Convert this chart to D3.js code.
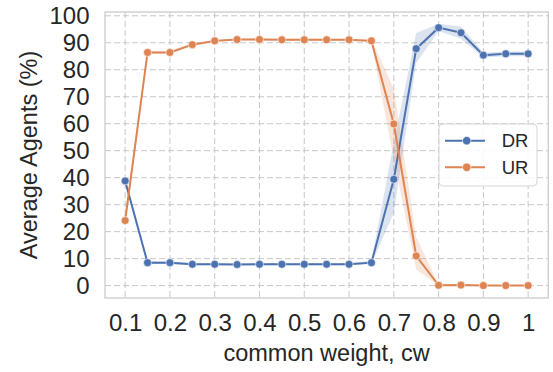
<!DOCTYPE html>
<html>
<head>
<meta charset="utf-8">
<script src="https://cdn.jsdelivr.net/npm/d3@7"></script>
<style>
  body { margin: 0; background: #fff; }
  text { font-family: "Liberation Sans", Arial, sans-serif; fill: #262626; }
</style>
</head>
<body>
<svg id="chart" width="553" height="372"></svg>
<script>
// common weight values (x)
var cw = [0.1, 0.15, 0.2, 0.25, 0.3, 0.35, 0.4, 0.45, 0.5, 0.55, 0.6, 0.65, 0.7, 0.75, 0.8, 0.85, 0.9, 0.95, 1.0];

// DR: mean and confidence band
var drMean = [38.8, 8.5, 8.5, 7.9, 7.9, 7.8, 7.9, 7.9, 7.9, 7.9, 7.9, 8.5, 39.4, 87.8, 95.6, 93.7, 85.4, 85.9, 85.9];
var drLow  = [37.8, 8.0, 8.0, 7.5, 7.5, 7.4, 7.5, 7.5, 7.5, 7.5, 7.5, 8.0, 27.0, 82.5, 94.4, 91.5, 84.5, 85.0, 85.0];
var drHigh = [39.8, 9.0, 9.0, 8.3, 8.3, 8.2, 8.3, 8.3, 8.3, 8.3, 8.3, 9.2, 53.0, 93.6, 97.0, 96.0, 86.4, 86.8, 86.8];

// UR: mean and confidence band
var urMean = [24.1, 86.4, 86.4, 89.3, 90.7, 91.2, 91.2, 91.1, 91.1, 91.1, 91.1, 90.7, 59.9, 11.0, 0.1, 0.2, 0.0, 0.0, 0.0];
var urLow  = [21.0, 85.8, 85.8, 88.8, 90.3, 90.8, 90.8, 90.7, 90.7, 90.7, 90.7, 90.0, 47.0, 6.0, 0.0, 0.0, 0.0, 0.0, 0.0];
var urHigh = [27.5, 87.0, 87.0, 89.8, 91.1, 91.6, 91.6, 91.5, 91.5, 91.5, 91.5, 91.4, 73.0, 18.0, 0.4, 0.5, 0.2, 0.2, 0.2];

var xTicks = [0.1, 0.2, 0.3, 0.4, 0.5, 0.6, 0.7, 0.8, 0.9, 1.0];
var yTicks = [0, 10, 20, 30, 40, 50, 60, 70, 80, 90, 100];

var seriesNames = ["DR", "UR"];
var colors = {DR: "#4c72b0", UR: "#dd8452"};

var svg = d3.select("#chart");
// plot box (window.top is taken, so prefix these)
var plotL = 105, plotR = 548.3, plotT = 12, plotB = 298;

var x = d3.scaleLinear().domain([0.055, 1.045]).range([plotL, plotR]);
var y = d3.scaleLinear().domain([-4.6, 101.4]).range([plotB, plotT]);

// grid
var grid = svg.append("g").attr("class", "grid");
grid.selectAll(".gx").data(xTicks).enter().append("line")
    .attr("x1", function(d) { return x(d); })
    .attr("x2", function(d) { return x(d); })
    .attr("y1", plotT).attr("y2", plotB)
    .attr("stroke", "#c8c8c8").attr("stroke-width", 1)
    .attr("stroke-dasharray", "6,3");
grid.selectAll(".gy").data(yTicks).enter().append("line")
    .attr("x1", plotL).attr("x2", plotR)
    .attr("y1", function(d) { return y(d); })
    .attr("y2", function(d) { return y(d); })
    .attr("stroke", "#c8c8c8").attr("stroke-width", 1)
    .attr("stroke-dasharray", "6,3");

// spines
svg.append("rect")
    .attr("x", plotL).attr("y", plotT)
    .attr("width", plotR - plotL).attr("height", plotB - plotT)
    .attr("fill", "none").attr("stroke", "#cccccc").attr("stroke-width", 1.3);

var data = {
  DR: {mean: drMean, low: drLow, high: drHigh},
  UR: {mean: urMean, low: urLow, high: urHigh}
};

var area = d3.area()
    .x(function(d, i) { return x(cw[i]); })
    .y0(function(d) { return y(d[0]); })
    .y1(function(d) { return y(d[1]); });

var line = d3.line()
    .x(function(d, i) { return x(cw[i]); })
    .y(function(d) { return y(d); });

// bands first, then lines + markers
seriesNames.forEach(function(name) {
  var s = data[name];
  var band = s.low.map(function(v, i) { return [v, s.high[i]]; });
  svg.append("path")
      .datum(band)
      .attr("d", area)
      .attr("fill", colors[name])
      .attr("fill-opacity", 0.2);
});

seriesNames.forEach(function(name) {
  var s = data[name];
  svg.append("path")
      .datum(s.mean)
      .attr("d", line)
      .attr("fill", "none")
      .attr("stroke", colors[name])
      .attr("stroke-width", 2);
  svg.append("g").selectAll("circle")
      .data(s.mean)
      .enter()
      .append("circle")
      .attr("cx", function(d, i) { return x(cw[i]); })
      .attr("cy", function(d) { return y(d); })
      .attr("r", 4)
      .attr("fill", colors[name])
      .attr("stroke", "#fff")
      .attr("stroke-width", 0.6);
});

// axes
var xAxis = d3.axisBottom(x)
    .tickValues(xTicks)
    .tickSize(0)
    .tickPadding(16)
    .tickFormat(function(d) { return String(+d.toFixed(1)); });
var yAxis = d3.axisLeft(y)
    .tickValues(yTicks)
    .tickSize(0)
    .tickPadding(15.5);

var gx = svg.append("g").attr("transform", "translate(0," + plotB + ")").call(xAxis);
var gy = svg.append("g").attr("transform", "translate(" + plotL + ",0)").call(yAxis);
gx.select(".domain").remove();
gy.select(".domain").remove();
gx.selectAll("text").style("font-size", "24px").attr("fill", "#262626")
    .style("font-family", "'Liberation Sans', Arial, sans-serif");
gy.selectAll("text").style("font-size", "24px").attr("fill", "#262626")
    .style("font-family", "'Liberation Sans', Arial, sans-serif");

// axis labels
svg.append("text")
    .attr("x", (plotL + plotR) / 2)
    .attr("y", 361)
    .attr("text-anchor", "middle")
    .style("font-size", "23.5px")
    .text("common weight, cw");
svg.append("text")
    .attr("transform", "translate(36.5," + (plotT + plotB) / 2 + ") rotate(-90)")
    .attr("text-anchor", "middle")
    .style("font-size", "23.5px")
    .text("Average Agents (%)");

// legend
var legend = svg.append("g");
legend.append("rect")
    .attr("x", 439).attr("y", 124)
    .attr("width", 98).attr("height", 62)
    .attr("rx", 4)
    .attr("fill", "#fff").attr("fill-opacity", 0.85)
    .attr("stroke", "#d6d6d6").attr("stroke-width", 1);

var rows = legend.selectAll(".row").data(seriesNames).enter().append("g")
    .attr("transform", function(d, i) { return "translate(0," + (140.7 + i * 26.6) + ")"; });
rows.append("line")
    .attr("x1", 445).attr("x2", 485)
    .attr("stroke", function(d) { return colors[d]; })
    .attr("stroke-width", 2);
rows.append("circle")
    .attr("cx", 466.7).attr("r", 4.2)
    .attr("fill", function(d) { return colors[d]; })
    .attr("stroke", "#fff").attr("stroke-width", 0.6);
rows.append("text")
    .attr("x", 501.7)
    .attr("dy", "0.35em")
    .style("font-size", "18.5px")
    .text(function(d) { return d; });
</script>
</body>
</html>
